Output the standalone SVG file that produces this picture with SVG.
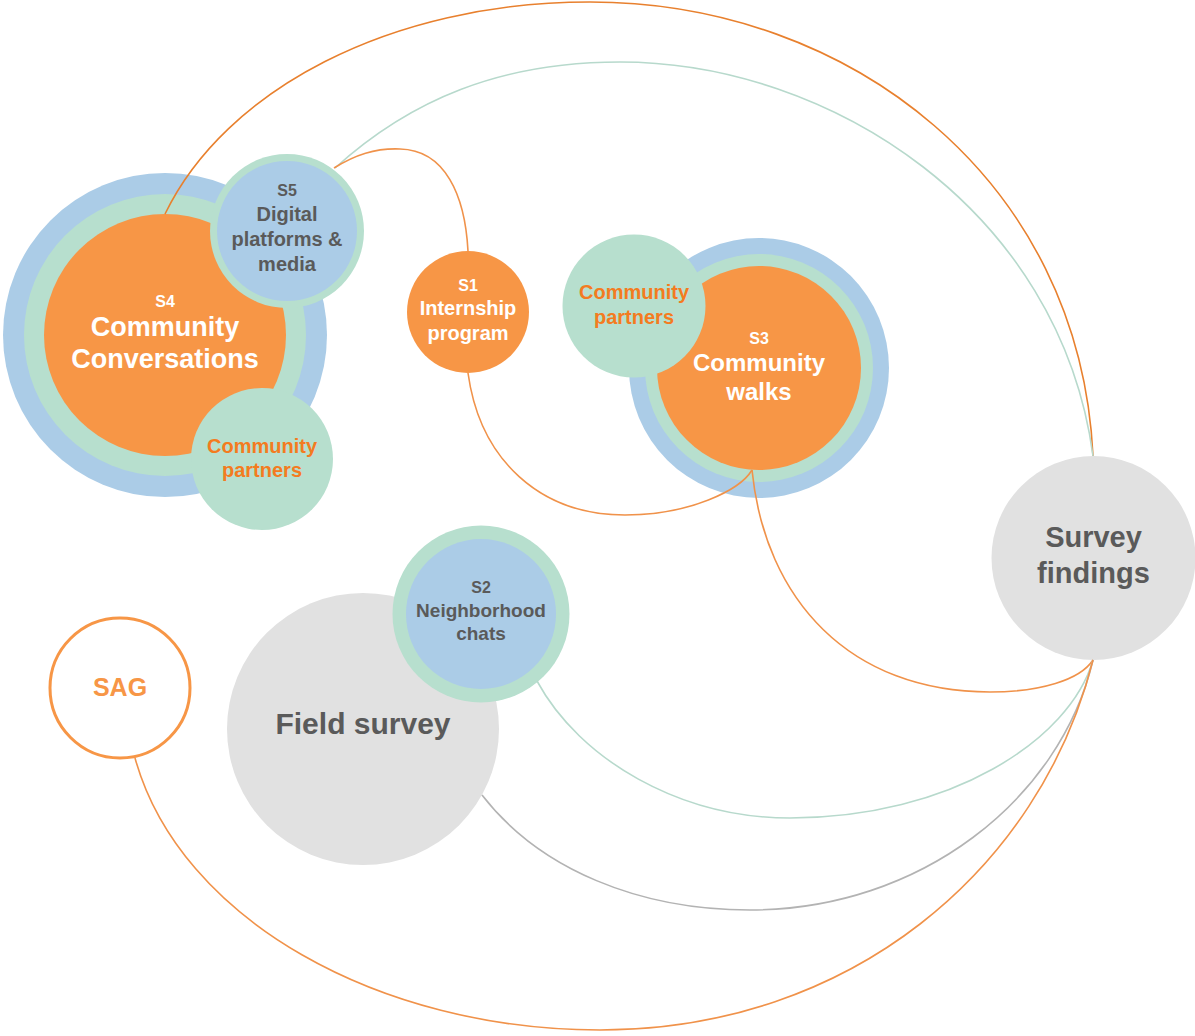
<svg xmlns="http://www.w3.org/2000/svg" width="1195" height="1036" viewBox="0 0 1195 1036">
<style>
text{font-family:"Liberation Sans",Arial,sans-serif;font-weight:bold;text-anchor:middle}
.blue{fill:#ABCCE7}
.green{fill:#B7DFCE}
.orange{fill:#F79646}
.gray{fill:#E1E1E1}
.tw{fill:#FFFFFF}
.tg{fill:#5A5A5A}
.to{fill:#F47B20}
.c{fill:none;stroke-width:1.6}
.co{stroke:#F0924A}
.cd{stroke:#E8802E}
.ct{stroke:#B7D9CC}
.cg{stroke:#B3B3B3}
</style>
<rect width="1195" height="1036" fill="#FFFFFF"/>
<g id="S4">
<circle class="blue" cx="165" cy="335" r="162"/>
<circle class="green" cx="165" cy="335" r="141"/>
<circle class="orange" cx="165" cy="335" r="121"/>
<text class="tw" x="165" y="307" font-size="16">S4</text>
<text class="tw" x="165" y="336" font-size="27">Community</text>
<text class="tw" x="165" y="368" font-size="27">Conversations</text>
</g>
<g id="S5">
<circle class="green" cx="287" cy="231" r="77"/>
<circle class="blue" cx="287" cy="231" r="70"/>
<text class="tg" x="287" y="196" font-size="16">S5</text>
<text class="tg" x="287" y="221" font-size="20">Digital</text>
<text class="tg" x="287" y="246" font-size="20">platforms &amp;</text>
<text class="tg" x="287" y="271" font-size="20">media</text>
</g>
<g id="S4-partners">
<circle class="green" cx="262" cy="459" r="71"/>
<text class="to" x="262" y="453" font-size="20">Community</text>
<text class="to" x="262" y="477" font-size="20">partners</text>
</g>
<g id="S1">
<circle class="orange" cx="468" cy="312" r="61"/>
<text class="tw" x="468" y="291" font-size="16">S1</text>
<text class="tw" x="468" y="315" font-size="20">Internship</text>
<text class="tw" x="468" y="340" font-size="20">program</text>
</g>
<g id="S3">
<circle class="blue" cx="759" cy="368" r="130"/>
<circle class="green" cx="759" cy="368" r="114"/>
<circle class="orange" cx="759" cy="368" r="102"/>
<text class="tw" x="759" y="344" font-size="16">S3</text>
<text class="tw" x="759" y="371" font-size="24">Community</text>
<text class="tw" x="759" y="400" font-size="24">walks</text>
</g>
<g id="S3-partners">
<circle class="green" cx="634" cy="306" r="71.5"/>
<text class="to" x="634" y="299" font-size="20">Community</text>
<text class="to" x="634" y="324" font-size="20">partners</text>
</g>
<g id="field-survey">
<circle class="gray" cx="363" cy="729" r="136"/>
<text class="tg" x="363" y="734" font-size="30">Field survey</text>
</g>
<g id="S2">
<circle class="green" cx="481" cy="614" r="88.5"/>
<circle class="blue" cx="481" cy="614" r="75"/>
<text class="tg" x="481" y="593" font-size="16">S2</text>
<text class="tg" x="481" y="617" font-size="19">Neighborhood</text>
<text class="tg" x="481" y="640" font-size="19">chats</text>
</g>
<g id="survey-findings">
<circle class="gray" cx="1093.5" cy="558" r="102"/>
<text class="tg" x="1093.5" y="547" font-size="29">Survey</text>
<text class="tg" x="1093.5" y="583" font-size="29">findings</text>
</g>
<g id="SAG">
<circle cx="120" cy="688" r="70" fill="#FFFFFF" stroke="#F79646" stroke-width="3"/>
<text x="120" y="696" font-size="25" fill="#F79646">SAG</text>
</g>
<g id="connectors">
<path class="c cd" d="M165,214 C225,90 390,2 590,2 C850,2 1080,180 1093,456"/>
<path class="c ct" d="M335,168 C410,100 500,62 620,62 C830,62 1060,210 1093,456"/>
<path class="c co" d="M334,168 C355,155 375,148 400,149 C445,150 465,195 468,251"/>
<path class="c co" d="M468,373 C480,460 540,515 625,515 C690,515 740,490 752,470"/>
<path class="c co" d="M752,470 C765,600 850,692 990,692 C1040,692 1080,680 1093,660"/>
<path class="c ct" stroke-width="2.5" d="M537,681 C580,760 680,818 790,818 C950,818 1070,740 1093,660"/>
<path class="c cg" d="M482,795 C540,870 640,910 750,910 C920,910 1060,800 1093,660"/>
<path class="c co" d="M135,758 C180,920 380,1030 600,1030 C850,1030 1040,870 1093,660"/>
</g>
</svg>
